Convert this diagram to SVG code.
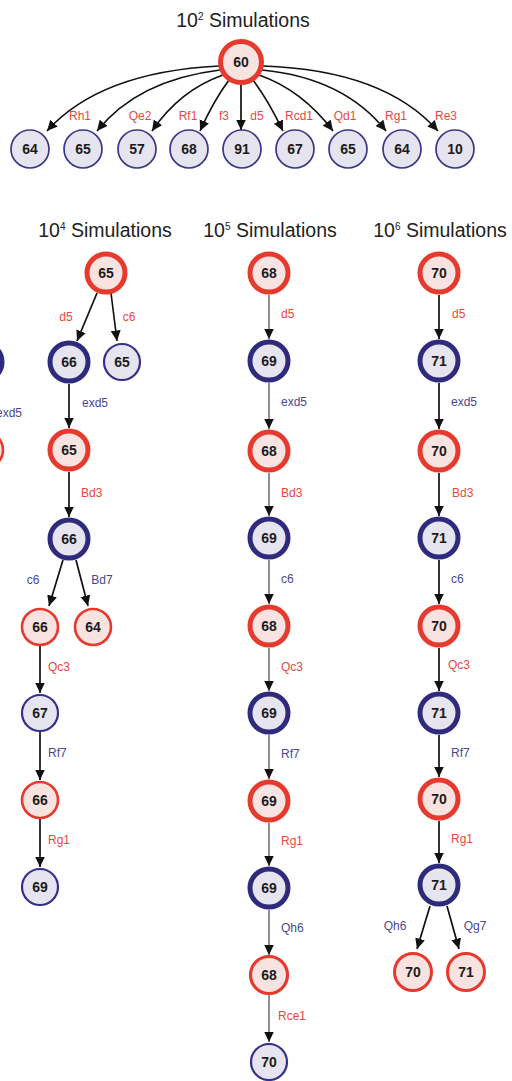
<svg xmlns="http://www.w3.org/2000/svg" width="512" height="1081" viewBox="0 0 512 1081">
  <style>
    .title { font-family: "Liberation Sans", Arial, sans-serif; font-size: 19.5px; fill: #222; text-anchor: middle; }
    .sup { font-size: 10px; }
    .num { font-family: "Liberation Sans", Arial, sans-serif; font-weight: bold; font-size: 14px; fill: #1c1c1c; text-anchor: middle; }
    .lbl { font-family: "Liberation Sans", Arial, sans-serif; font-size: 12px; }
    .red { fill: #e8473d; }
    .blue { fill: #4a4790; }
    .mid { text-anchor: middle; }
    .rt { fill: #f8e3e1; stroke: #e63a2f; stroke-width: 5; }
    .rn { fill: #f8e3e1; stroke: #e63a2f; stroke-width: 2.6; }
    .bt { fill: #e6e4ef; stroke: #2f2a7c; stroke-width: 5; }
    .bn { fill: #e6e4ef; stroke: #35318a; stroke-width: 2.2; }
    .bs { fill: #e6e4ef; stroke: #3b3788; stroke-width: 1.7; }
    .edge { fill: none; stroke: #111; stroke-width: 1.7; marker-end: url(#arrow); }
    .edge.grey { stroke: #555; stroke-width: 1.3; }
  </style>
  <defs>
    <marker id="arrow" markerUnits="userSpaceOnUse" markerWidth="11" markerHeight="11" refX="10.5" refY="5" orient="auto">
      <path d="M0,0 L10.5,5 L0,10 z" fill="#111"/>
    </marker>
  </defs>

  <rect width="512" height="1081" fill="#ffffff"/>

  <!-- headings -->
  <text class="title" x="243" y="27">10<tspan class="sup" dy="-7">2</tspan><tspan dy="7"> Simulations</tspan></text>
  <text class="title" x="105" y="237">10<tspan class="sup" dy="-7">4</tspan><tspan dy="7"> Simulations</tspan></text>
  <text class="title" x="270" y="237">10<tspan class="sup" dy="-7">5</tspan><tspan dy="7"> Simulations</tspan></text>
  <text class="title" x="440" y="237">10<tspan class="sup" dy="-7">6</tspan><tspan dy="7"> Simulations</tspan></text>

  <!-- connectors -->
  <g id="connectors">
    <!-- 10^2 fan-out -->
    <path class="edge" d="M219,66 Q100,72 47,131"/>
    <path class="edge" d="M220,70 Q138,80 97,131"/>
    <path class="edge" d="M223,75 Q180,90 152,131"/>
    <path class="edge" d="M229,80 Q214,100 200,131"/>
    <path class="edge" d="M241,85 L241,130"/>
    <path class="edge" d="M253,80 Q268,100 283,131"/>
    <path class="edge" d="M259,75 Q302,90 333,131"/>
    <path class="edge" d="M262,70 Q344,78 386,131"/>
    <path class="edge" d="M263,66 Q384,70 438,131"/>

    <!-- 10^4 tree -->
    <path class="edge" d="M97,293 L77,341"/>
    <path class="edge" d="M111,293 L117,341"/>
    <path class="edge" d="M69,384 L69,428"/>
    <path class="edge" d="M69,472 L69,517"/>
    <path class="edge" d="M63,560 L49,606"/>
    <path class="edge" d="M76,560 L88,606"/>
    <path class="edge" d="M40,646 L40,693"/>
    <path class="edge" d="M40,732 L40,780"/>
    <path class="edge" d="M40,819 L40,867"/>

    <!-- 10^5 chain -->
    <path class="edge grey" d="M269,295 L269,339"/>
    <path class="edge grey" d="M269,383 L269,429"/>
    <path class="edge grey" d="M269,473 L269,516"/>
    <path class="edge grey" d="M269,560 L269,604"/>
    <path class="edge grey" d="M269,648 L269,691"/>
    <path class="edge grey" d="M269,735 L269,779"/>
    <path class="edge grey" d="M269,823 L269,866"/>
    <path class="edge grey" d="M269,910 L269,955"/>
    <path class="edge grey" d="M269,995 L269,1042"/>

    <!-- 10^6 chain -->
    <path class="edge" d="M439,295 L439,339"/>
    <path class="edge" d="M439,383 L439,429"/>
    <path class="edge" d="M439,473 L439,516"/>
    <path class="edge" d="M439,560 L439,604"/>
    <path class="edge" d="M439,648 L439,691"/>
    <path class="edge" d="M439,735 L439,777"/>
    <path class="edge" d="M439,821 L439,863"/>
    <path class="edge" d="M430,906 L417,949"/>
    <path class="edge" d="M447,906 L459,949"/>
  </g>

  <!-- move labels -->
  <g id="labels">
    <text class="lbl red mid" x="80" y="120">Rh1</text>
    <text class="lbl red mid" x="140" y="120">Qe2</text>
    <text class="lbl red mid" x="188" y="120">Rf1</text>
    <text class="lbl red mid" x="224" y="120">f3</text>
    <text class="lbl red mid" x="257" y="120">d5</text>
    <text class="lbl red mid" x="299" y="120">Rcd1</text>
    <text class="lbl red mid" x="345" y="120">Qd1</text>
    <text class="lbl red mid" x="396" y="120">Rg1</text>
    <text class="lbl red mid" x="446" y="120">Re3</text>

    <text class="lbl blue" x="-4" y="417">exd5</text>

    <text class="lbl red mid" x="66" y="321">d5</text>
    <text class="lbl red mid" x="129" y="321">c6</text>
    <text class="lbl blue" x="82" y="407">exd5</text>
    <text class="lbl red" x="81" y="497">Bd3</text>
    <text class="lbl blue mid" x="33" y="584">c6</text>
    <text class="lbl blue mid" x="102" y="584">Bd7</text>
    <text class="lbl red" x="48" y="671">Qc3</text>
    <text class="lbl blue" x="48" y="757">Rf7</text>
    <text class="lbl red" x="48" y="844">Rg1</text>

    <text class="lbl red" x="281" y="318">d5</text>
    <text class="lbl blue" x="281" y="406">exd5</text>
    <text class="lbl red" x="281" y="497">Bd3</text>
    <text class="lbl blue" x="281" y="583">c6</text>
    <text class="lbl red" x="281" y="671">Qc3</text>
    <text class="lbl blue" x="281" y="758">Rf7</text>
    <text class="lbl red" x="281" y="845">Rg1</text>
    <text class="lbl blue" x="281" y="932">Qh6</text>
    <text class="lbl red" x="278" y="1020">Rce1</text>

    <text class="lbl red" x="452" y="318">d5</text>
    <text class="lbl blue" x="451" y="406">exd5</text>
    <text class="lbl red" x="452" y="497">Bd3</text>
    <text class="lbl blue" x="451" y="583">c6</text>
    <text class="lbl red" x="448" y="669">Qc3</text>
    <text class="lbl blue" x="451" y="757">Rf7</text>
    <text class="lbl red" x="451" y="843">Rg1</text>
    <text class="lbl blue mid" x="395" y="930">Qh6</text>
    <text class="lbl blue mid" x="475" y="930">Qg7</text>
  </g>

  <!-- 10^2 tree -->
  <g id="s2-root"><circle class="rt" cx="241" cy="62" r="20.5"/><text class="num" x="241" y="67">60</text></g>
  <g id="s2-c1"><circle class="bs" cx="30" cy="149" r="19"/><text class="num" x="30" y="154">64</text></g>
  <g id="s2-c2"><circle class="bs" cx="83" cy="149" r="19"/><text class="num" x="83" y="154">65</text></g>
  <g id="s2-c3"><circle class="bs" cx="137" cy="149" r="19"/><text class="num" x="137" y="154">57</text></g>
  <g id="s2-c4"><circle class="bs" cx="189" cy="149" r="19"/><text class="num" x="189" y="154">68</text></g>
  <g id="s2-c5"><circle class="bs" cx="242" cy="149" r="19"/><text class="num" x="242" y="154">91</text></g>
  <g id="s2-c6"><circle class="bs" cx="295" cy="149" r="19"/><text class="num" x="295" y="154">67</text></g>
  <g id="s2-c7"><circle class="bs" cx="348" cy="149" r="19"/><text class="num" x="348" y="154">65</text></g>
  <g id="s2-c8"><circle class="bs" cx="402" cy="149" r="19"/><text class="num" x="402" y="154">64</text></g>
  <g id="s2-c9"><circle class="bs" cx="455" cy="149" r="19"/><text class="num" x="455" y="154">10</text></g>

  <!-- nodes cut by the left border -->
  <g id="edge-n1"><circle class="bt" cx="-17" cy="362" r="19"/></g>
  <g id="edge-n2"><circle class="rn" cx="-15" cy="450" r="18"/></g>

  <!-- 10^4 tree -->
  <g id="s4-n1"><circle class="rt" cx="106" cy="273" r="19"/><text class="num" x="106" y="278">65</text></g>
  <g id="s4-n2"><circle class="bt" cx="69" cy="362" r="19"/><text class="num" x="69" y="367">66</text></g>
  <g id="s4-n3"><circle class="bn" cx="122" cy="362" r="18"/><text class="num" x="122" y="367">65</text></g>
  <g id="s4-n4"><circle class="rt" cx="69" cy="450" r="19"/><text class="num" x="69" y="455">65</text></g>
  <g id="s4-n5"><circle class="bt" cx="69" cy="539" r="19"/><text class="num" x="69" y="544">66</text></g>
  <g id="s4-n6"><circle class="rn" cx="40" cy="627" r="18"/><text class="num" x="40" y="632">66</text></g>
  <g id="s4-n7"><circle class="rn" cx="93" cy="627" r="18"/><text class="num" x="93" y="632">64</text></g>
  <g id="s4-n8"><circle class="bn" cx="40" cy="713" r="18"/><text class="num" x="40" y="718">67</text></g>
  <g id="s4-n9"><circle class="rn" cx="40" cy="800" r="18"/><text class="num" x="40" y="805">66</text></g>
  <g id="s4-n10"><circle class="bn" cx="40" cy="887" r="18"/><text class="num" x="40" y="892">69</text></g>

  <!-- 10^5 chain -->
  <g id="s5-n1"><circle class="rt" cx="269" cy="273" r="19"/><text class="num" x="269" y="278">68</text></g>
  <g id="s5-n2"><circle class="bt" cx="269" cy="361" r="19"/><text class="num" x="269" y="366">69</text></g>
  <g id="s5-n3"><circle class="rt" cx="269" cy="451" r="19"/><text class="num" x="269" y="456">68</text></g>
  <g id="s5-n4"><circle class="bt" cx="269" cy="538" r="19"/><text class="num" x="269" y="543">69</text></g>
  <g id="s5-n5"><circle class="rt" cx="269" cy="626" r="19"/><text class="num" x="269" y="631">68</text></g>
  <g id="s5-n6"><circle class="bt" cx="269" cy="713" r="19"/><text class="num" x="269" y="718">69</text></g>
  <g id="s5-n7"><circle class="rt" cx="269" cy="801" r="19"/><text class="num" x="269" y="806">69</text></g>
  <g id="s5-n8"><circle class="bt" cx="269" cy="888" r="19"/><text class="num" x="269" y="893">69</text></g>
  <g id="s5-n9"><circle class="rn" cx="269" cy="975" r="18.5" style="stroke-width:3.2"/><text class="num" x="269" y="980">68</text></g>
  <g id="s5-n10"><circle class="bn" cx="269" cy="1062" r="18"/><text class="num" x="269" y="1067">70</text></g>

  <!-- 10^6 tree -->
  <g id="s6-n1"><circle class="rt" cx="439" cy="273" r="19"/><text class="num" x="439" y="278">70</text></g>
  <g id="s6-n2"><circle class="bt" cx="439" cy="361" r="19"/><text class="num" x="439" y="366">71</text></g>
  <g id="s6-n3"><circle class="rt" cx="439" cy="451" r="19"/><text class="num" x="439" y="456">70</text></g>
  <g id="s6-n4"><circle class="bt" cx="439" cy="538" r="19"/><text class="num" x="439" y="543">71</text></g>
  <g id="s6-n5"><circle class="rt" cx="439" cy="626" r="19"/><text class="num" x="439" y="631">70</text></g>
  <g id="s6-n6"><circle class="bt" cx="439" cy="713" r="19"/><text class="num" x="439" y="718">71</text></g>
  <g id="s6-n7"><circle class="rt" cx="439" cy="799" r="19"/><text class="num" x="439" y="804">70</text></g>
  <g id="s6-n8"><circle class="bt" cx="439" cy="885" r="19"/><text class="num" x="439" y="890">71</text></g>
  <g id="s6-n9"><circle class="rn" cx="413" cy="972" r="18.5" style="stroke-width:3"/><text class="num" x="413" y="977">70</text></g>
  <g id="s6-n10"><circle class="rn" cx="466" cy="972" r="18.5" style="stroke-width:3"/><text class="num" x="466" y="977">71</text></g>
</svg>
